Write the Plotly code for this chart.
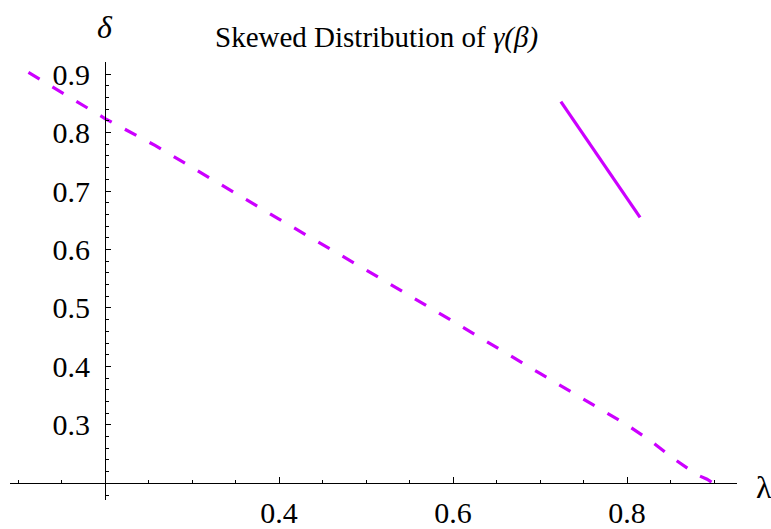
import plotly.graph_objects as go

# dashed curve (lambda, delta)
x_dash = [0.112, 0.2, 0.2575, 0.3, 0.384, 0.4, 0.5, 0.516, 0.6, 0.7, 0.8, 0.826, 0.853, 0.88, 0.892, 0.906]
y_dash = [0.903, 0.824, 0.778, 0.740, 0.666, 0.652, 0.565, 0.551, 0.477, 0.388, 0.300, 0.274, 0.243, 0.215, 0.207, 0.194]

# solid segment
x_solid = [0.724, 0.815]
y_solid = [0.853, 0.655]

x_ticks = [0.4, 0.6, 0.8]
x_ticktext = ["0.4", "0.6", "0.8"]
y_ticks = [0.3, 0.4, 0.5, 0.6, 0.7, 0.8, 0.9]
y_ticktext = ["0.3", "0.4", "0.5", "0.6", "0.7", "0.8", "0.9"]

title_text = "Skewed Distribution of <i>γ(β)</i>"
x_label = "λ"
y_label = "<i>δ</i>"

W, H = 771, 529
color = "#CC00FF"
font_family = "Liberation Serif"

fig = go.Figure()
fig.add_trace(go.Scatter(x=x_dash, y=y_dash, mode="lines",
                         line=dict(color=color, width=3.2, dash="13px,15px"),
                         showlegend=False, hoverinfo="skip"))
fig.add_trace(go.Scatter(x=x_solid, y=y_solid, mode="lines",
                         line=dict(color=color, width=3.2),
                         showlegend=False, hoverinfo="skip"))

fig.update_layout(
    width=W, height=H,
    margin=dict(l=0, r=0, t=0, b=0),
    paper_bgcolor="white", plot_bgcolor="white",
    xaxis=dict(
        domain=[10 / W, 737 / W], range=[0.0908, 0.92644],
        anchor="free", position=(H - 485.7) / H,
        showline=True, linecolor="black", linewidth=1,
        showgrid=False, zeroline=False,
        ticks="inside", ticklen=6, tickwidth=1, tickcolor="black",
        tickmode="array", tickvals=x_ticks, ticktext=x_ticktext,
        ticklabelstandoff=3,
        tickfont=dict(family=font_family, size=30, color="black"),
        minor=dict(ticks="inside", ticklen=3.5, tickwidth=1, tickcolor="black",
                   tickmode="linear", tick0=0, dtick=0.05, showgrid=False),
    ),
    yaxis=dict(
        domain=[(H - 502.3) / H, (H - 58.3) / H], range=[0.172, 0.92],
        anchor="free", position=105 / W,
        showline=True, linecolor="black", linewidth=1,
        showgrid=False, zeroline=False,
        ticks="inside", ticklen=5, tickwidth=1, tickcolor="black",
        tickmode="array", tickvals=y_ticks, ticktext=y_ticktext,
        ticklabelstandoff=9,
        tickfont=dict(family=font_family, size=30, color="black"),
        minor=dict(ticks="inside", ticklen=3.3, tickwidth=1, tickcolor="black",
                   tickmode="linear", tick0=0, dtick=0.02, showgrid=False),
    ),
    annotations=[
        dict(text=title_text, x=376 / W, y=(H - 33) / H, xref="paper", yref="paper",
             showarrow=False, xanchor="center", yanchor="middle",
             font=dict(family=font_family, size=29, color="black")),
        dict(text=y_label, x=105 / W, y=(H - 22) / H, xref="paper", yref="paper",
             showarrow=False, xanchor="center", yanchor="middle",
             font=dict(family=font_family, size=32, color="black")),
        dict(text=x_label, x=764 / W, y=(H - 489) / H, xref="paper", yref="paper",
             showarrow=False, xanchor="center", yanchor="middle",
             font=dict(family=font_family, size=32, color="black")),
    ],
)

fig.write_html("out.html", config={"displayModeBar": False},
               post_script="document.body.style.margin='0px';")
